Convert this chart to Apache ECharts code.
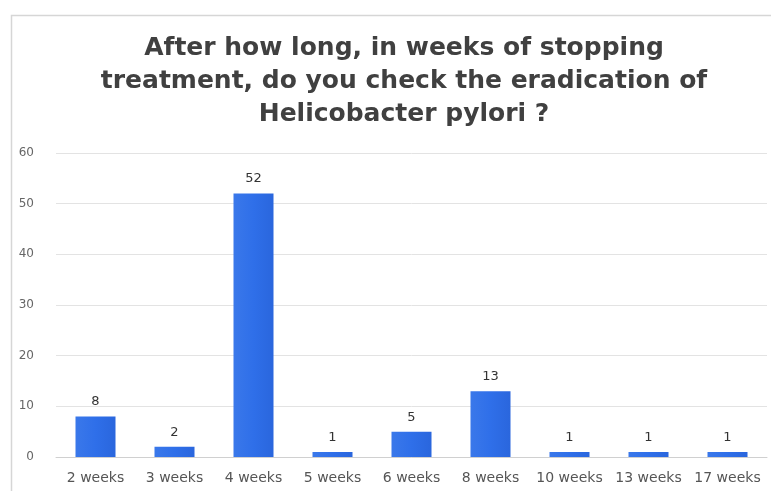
<!DOCTYPE html>
<html>
<head>
<meta charset="utf-8">
<script src="https://cdn.jsdelivr.net/npm/echarts@6/dist/echarts.min.js"></script>
<style>
  html, body { margin: 0; padding: 0; background: #ffffff; }
  #chart { width: 771px; height: 491px; }
</style>
</head>
<body>
<div id="chart"></div>
<script>
// Survey answers: weeks after stopping treatment before eradication is checked
const categories = ['2 weeks', '3 weeks', '4 weeks', '5 weeks', '6 weeks', '8 weeks', '10 weeks', '13 weeks', '17 weeks'];
const counts = [8, 2, 52, 1, 5, 13, 1, 1, 1];
const yTicks = { min: 0, max: 60, interval: 10 };
const titleLines = [
  'After how long, in weeks of stopping',
  'treatment, do you check the eradication of',
  'Helicobacter pylori ?'
];

const FONT = 'DejaVu Sans, Liberation Sans, Arial, sans-serif';
const chart = echarts.init(document.getElementById('chart'), null, { renderer: 'canvas' });

chart.setOption({
  animation: false,
  backgroundColor: '#ffffff',
  graphic: [{
    type: 'rect',
    left: 9, top: 13,
    shape: { width: 800, height: 520 },
    style: { fill: 'none', stroke: '#d6d6d6', lineWidth: 1.5 },
    silent: true
  }],
  title: {
    text: titleLines.join('\n'),
    left: 399,
    top: 27,
    textAlign: 'center',
    textStyle: {
      fontFamily: FONT,
      fontSize: 25,
      fontWeight: 'bold',
      color: '#404040',
      lineHeight: 33
    }
  },
  grid: { left: 56, right: 4, top: 153, bottom: 34, containLabel: false },
  xAxis: {
    type: 'category',
    data: categories,
    axisLine: { show: true, lineStyle: { color: '#d0d0d0' } },
    axisTick: { show: false },
    axisLabel: {
      color: '#555555',
      fontFamily: FONT,
      fontSize: 14,
      margin: 14,
      interval: 0
    }
  },
  yAxis: {
    type: 'value',
    min: yTicks.min,
    max: yTicks.max,
    interval: yTicks.interval,
    axisLine: { show: false },
    axisTick: { show: false },
    splitLine: { lineStyle: { color: '#e3e3e3', width: 1 } },
    axisLabel: {
      color: '#666666',
      fontFamily: FONT,
      fontSize: 12,
      margin: 22
    }
  },
  series: [{
    type: 'bar',
    data: counts,
    barWidth: 40,
    itemStyle: {
      color: new echarts.graphic.LinearGradient(0, 0, 1, 0, [
        { offset: 0, color: '#3a78ea' },
        { offset: 0.5, color: '#2f6fe9' },
        { offset: 1, color: '#2a66dd' }
      ])
    },
    label: {
      show: true,
      position: 'top',
      distance: 8,
      color: '#333333',
      fontFamily: FONT,
      fontSize: 13
    }
  }]
});
</script>
</body>
</html>
